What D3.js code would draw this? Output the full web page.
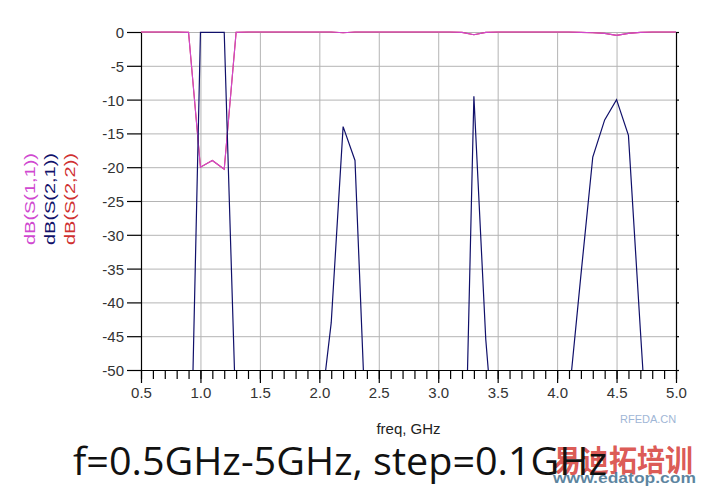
<!DOCTYPE html>
<html>
<head>
<meta charset="utf-8">
<script src="https://d3js.org/d3.v7.min.js"></script>
<style>
  body { margin: 0; background: #fff; }
  svg { display: block; }
  text { font-family: "Liberation Sans", Arial, sans-serif; }
</style>
</head>
<body>
<div id="chart"></div>
<script>
// frequency sweep 0.5 .. 5.0 GHz, 0.1 GHz step
const freq = [0.5,0.6,0.7,0.8,0.9,1.0,1.1,1.2,1.3,1.4,1.5,1.6,1.7,1.8,1.9,2.0,2.1,2.2,2.3,2.4,2.5,2.6,2.7,2.8,2.9,3.0,3.1,3.2,3.3,3.4,3.5,3.6,3.7,3.8,3.9,4.0,4.1,4.2,4.3,4.4,4.5,4.6,4.7,4.8,4.9,5.0];
// values (dB); everything under -50 is off scale
const s21 = [-100,-100,-100,-95,-80,-0.05,-0.05,-0.05,-58,-80,-90,-95,-95,-90,-80,-58,-43,-14,-19,-63,-80,-90,-95,-95,-95,-95,-100,-85,-9.5,-45.5,-67,-85,-95,-95,-90,-80,-54,-36,-18.5,-13,-10,-15.3,-44,-72,-90,-95];
const s11 = [0,0,0,0,-0.05,-20,-19,-20.3,-0.05,0,0,0,0,0,0,0,0,-0.1,0,0,0,0,0,0,0,0,0,-0.05,-0.4,-0.05,0,0,0,0,0,0,0,-0.05,-0.1,-0.2,-0.5,-0.2,-0.05,0,0,0];
const s22 = s11.slice();
const yTicks = [0,-5,-10,-15,-20,-25,-30,-35,-40,-45,-50];
const xTicks = [0.5,1.0,1.5,2.0,2.5,3.0,3.5,4.0,4.5,5.0];
const xMinor = d3.range(5, 51).map(d => d / 10);
const legend = [
  {name: "dB(S(1,1))", color: "#d048d0"},
  {name: "dB(S(2,1))", color: "#10106a"},
  {name: "dB(S(2,2))", color: "#d03030"}
];

const W = 704, H = 488;
const margin = {top: 32, right: 28, bottom: 118, left: 141},
    w = W - margin.left - margin.right,
    h = H - margin.top - margin.bottom;

const svg = d3.select("#chart").append("svg")
    .attr("width", W).attr("height", H);

const x = d3.scaleLinear().domain([0.5, 5]).range([0, w]);
const y = d3.scaleLinear().domain([-50, 0]).range([h, 0]);

const g = svg.append("g")
    .attr("transform", `translate(${margin.left}, ${margin.top})`);

// grid
g.append("g")
    .attr("transform", `translate(0, ${h})`)
    .call(d3.axisBottom(x).tickValues(xTicks).tickSize(-h).tickFormat(""))
    .call(a => a.select(".domain").remove())
    .selectAll("line").attr("stroke", "#b4b4b4");
g.append("g")
    .call(d3.axisLeft(y).tickValues(yTicks).tickSize(-w).tickFormat(""))
    .call(a => a.select(".domain").remove())
    .selectAll("line").attr("stroke", "#b4b4b4");

// axes
const yAxis = g.append("g")
    .call(d3.axisLeft(y).tickValues(yTicks).tickSize(14).tickSizeOuter(0).tickPadding(3)
        .tickFormat(d => d));
const rAxis = g.append("g")
    .attr("transform", `translate(${w}, 0)`)
    .call(d3.axisRight(y).tickValues(yTicks).tickSize(3).tickSizeOuter(0).tickFormat(""));
const xMinorAxis = g.append("g")
    .attr("transform", `translate(0, ${h})`)
    .call(d3.axisBottom(x).tickValues(xMinor).tickSize(9).tickSizeOuter(0).tickFormat(""));
const xAxis = g.append("g")
    .attr("transform", `translate(0, ${h})`)
    .call(d3.axisBottom(x).tickValues(xTicks).tickSize(13).tickSizeOuter(0).tickPadding(4)
        .tickFormat(d3.format(".1f")));

[yAxis, rAxis, xMinorAxis, xAxis].forEach(a => {
    a.selectAll("path, line").attr("stroke", "#000").attr("stroke-width", 1.2);
    a.selectAll("text").attr("fill", "#333").style("font-size", "15px")
        .style("font-family", "'Liberation Sans', Arial, sans-serif");
});
yAxis.selectAll("text").attr("dy", "0.36em");

// curves
g.append("clipPath").attr("id", "clip")
    .append("rect").attr("x", 0).attr("y", -2).attr("width", w).attr("height", h + 2);

const line = d3.line()
    .x((d, i) => x(freq[i]))
    .y(d => y(d));

const curves = g.append("g").attr("clip-path", "url(#clip)");
curves.append("path").datum(s22).attr("d", line)
    .attr("fill", "none").attr("stroke", legend[2].color).attr("stroke-width", 1.1);
curves.append("path").datum(s11).attr("d", line)
    .attr("fill", "none").attr("stroke", legend[0].color).attr("stroke-width", 1.1);
curves.append("path").datum(s21).attr("d", line)
    .attr("fill", "none").attr("stroke", legend[1].color).attr("stroke-width", 1.2);

// legend (rotated y labels)
svg.append("g").selectAll("text")
    .data(legend)
    .join("text")
    .attr("transform", (d, i) => `translate(${34.5 + i * 20}, 245) rotate(-90)`)
    .attr("textLength", 92)
    .attr("lengthAdjust", "spacingAndGlyphs")
    .style("font-size", "14px")
    .attr("fill", d => d.color)
    .text(d => d.name);

// axis title
svg.append("text")
    .attr("x", margin.left + x(2.75))
    .attr("y", 434)
    .attr("text-anchor", "middle")
    .style("font-size", "15px")
    .attr("fill", "#222")
    .text("freq, GHz");

// watermark
svg.append("text")
    .attr("x", 620).attr("y", 423)
    .style("font-size", "11px")
    .attr("fill", "#9fb6d6")
    .text("RFEDA.CN");
svg.append("text")
    .attr("x", 553).attr("y", 471)
    .attr("textLength", 140)
    .attr("lengthAdjust", "spacingAndGlyphs")
    .style("font-family", "'Noto Sans CJK SC', sans-serif")
    .style("font-weight", "bold")
    .style("font-size", "30px")
    .attr("fill", "#d8453f")
    .attr("fill-opacity", 0.9)
    .text("易迪拓培训");
svg.append("text")
    .attr("x", 553).attr("y", 483)
    .attr("textLength", 143)
    .attr("lengthAdjust", "spacingAndGlyphs")
    .style("font-weight", "bold")
    .style("font-size", "15px")
    .attr("fill", "#3f6f8f")
    .attr("fill-opacity", 0.85)
    .text("www.edatop.com");

// caption
svg.append("text")
    .attr("x", 73).attr("y", 475)
    .attr("textLength", 534)
    .attr("lengthAdjust", "spacingAndGlyphs")
    .style("font-family", "'Open Sans', 'DejaVu Sans', sans-serif")
    .style("font-size", "38px")
    .attr("fill", "#111")
    .text("f=0.5GHz-5GHz, step=0.1GHz");
</script>
</body>
</html>
